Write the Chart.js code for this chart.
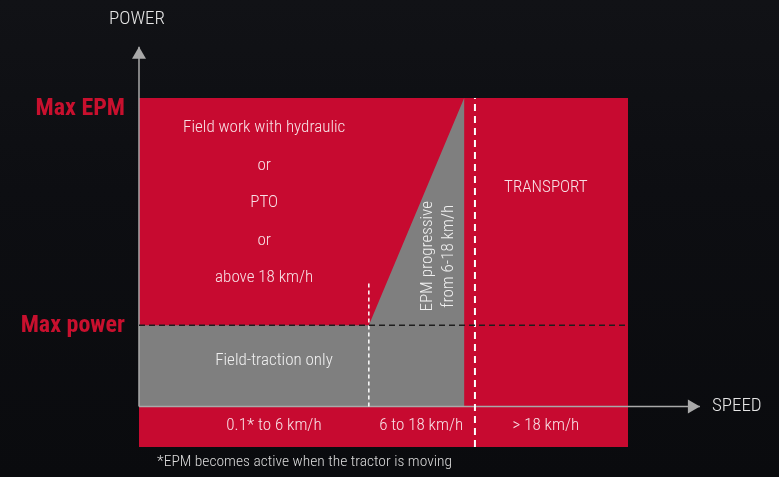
<!DOCTYPE html>
<html><head><meta charset="utf-8">
<script src="https://cdn.jsdelivr.net/npm/chart.js@4.4.1/dist/chart.umd.min.js"></script>
<style>
html,body{margin:0;padding:0;width:779px;height:477px;overflow:hidden;background:#0b0c10}
#wrap{position:relative;width:779px;height:477px;background:linear-gradient(180deg,#111216 0%,#0d0e12 40%,#0a0b0e 100%)}
canvas{display:block}
</style></head><body><div id="wrap"><canvas id="c" width="779" height="477"></canvas></div>
<script>
// Positions along the (non-linear) speed axis, in diagram units 0..100
const speedStart = 0, speed6 = 47, speed18 = 66.5, transportLine = 68.7, speedEnd = 100, speedArrow = 114.7;
// Power levels (Max power = 1)
const powerBottom = -0.5, powerZero = 0, maxPower = 1, maxEPM = 3.8, powerArrow = 4.43, dividerTop = 1.52;

const powerLevelNames = ['Max power', 'Max EPM'];
const powerLevelValues = [maxPower, maxEPM];
const speedZoneLabels = ['0.1* to 6 km/h', '6 to 18 km/h', '> 18 km/h'];
const speedZoneLabelAt = [27.6, 57.7, 83.2];
const fieldWorkLines = ['Field work with hydraulic', 'or', 'PTO', 'or', 'above 18 km/h'];
const epmLines = ['EPM progressive', 'from 6-18 km/h'];
const footnote = '*EPM becomes active when the tractor is moving';

const RED = '#c70a30', GRAY = '#7f7f7f', AXIS = '#a9a9a9';
const FONT = "'Liberation Sans Narrow','Roboto Condensed','DejaVu Sans Condensed',sans-serif";

const redZone = [{x:speedStart,y:powerBottom},{x:speedEnd,y:powerBottom},{x:speedEnd,y:maxEPM},{x:speedStart,y:maxEPM},{x:speedStart,y:powerBottom}];
const grayZone = [{x:speedStart,y:powerZero},{x:speed18,y:powerZero},{x:speed18,y:maxEPM},{x:speed6,y:maxPower},{x:speedStart,y:maxPower},{x:speedStart,y:powerZero}];

const textPlugin = {
  id: 'texts',
  afterDatasetsDraw(chart) {
    const {ctx, scales:{x, y}} = chart;
    ctx.save();
    // arrow heads
    ctx.fillStyle = AXIS;
    const ax = x.getPixelForValue(speedStart), ay = y.getPixelForValue(powerArrow);
    ctx.beginPath(); ctx.moveTo(ax, ay); ctx.lineTo(ax - 7, ay + 12); ctx.lineTo(ax + 7, ay + 12); ctx.closePath(); ctx.fill();
    const bx = x.getPixelForValue(speedArrow), by = y.getPixelForValue(powerZero);
    ctx.beginPath(); ctx.moveTo(bx, by); ctx.lineTo(bx - 12, by - 7); ctx.lineTo(bx - 12, by + 7); ctx.closePath(); ctx.fill();

    ctx.fillStyle = '#c8102e';
    ctx.font = 'bold 24px ' + FONT;
    ctx.textAlign = 'right';
    ctx.textBaseline = 'alphabetic';
    ctx.fillText(powerLevelNames[1], x.getPixelForValue(speedStart) - 14, y.getPixelForValue(powerLevelValues[1]) + 17);
    ctx.fillText(powerLevelNames[0], x.getPixelForValue(speedStart) - 14, y.getPixelForValue(powerLevelValues[0]) + 7);
    ctx.fillStyle = '#e6e6e6';
    ctx.font = '300 19px ' + FONT;
    ctx.textAlign = 'center';
    ctx.textBaseline = 'middle';
    ctx.fillText('POWER', x.getPixelForValue(speedStart) - 2, 19);
    ctx.textAlign = 'left';
    ctx.fillText('SPEED', x.getPixelForValue(speedArrow) + 12, y.getPixelForValue(powerZero));
    ctx.fillStyle = 'rgba(255,255,255,0.88)';
    ctx.font = '300 17px ' + FONT;
    ctx.textAlign = 'center';
    const fx = x.getPixelForValue(25.6);
    fieldWorkLines.forEach((t, i) => ctx.fillText(t, fx, 128 + i * 37.5));
    ctx.fillText('Field-traction only', x.getPixelForValue(27.6), y.getPixelForValue(0.56));
    ctx.fillText('TRANSPORT', x.getPixelForValue(83.2), y.getPixelForValue(2.69));
    speedZoneLabels.forEach((t, i) => ctx.fillText(t, x.getPixelForValue(speedZoneLabelAt[i]), y.getPixelForValue(-0.24)));
    ctx.save();
    ctx.translate(x.getPixelForValue(61.3), y.getPixelForValue(1.85));
    ctx.rotate(-Math.PI / 2);
    ctx.fillText(epmLines[0], 0, -11);
    ctx.fillText(epmLines[1], 0, 10);
    ctx.restore();
    ctx.fillStyle = '#dcdcdc';
    ctx.font = '300 15.5px ' + FONT;
    ctx.textAlign = 'left';
    ctx.fillText(footnote, x.getPixelForValue(3.7), 462);
    ctx.restore();
  }
};

const line = (data, color, width, dash, extra) => Object.assign({
  data, showLine: true, borderColor: color, borderWidth: width, borderDash: dash || [],
  pointRadius: 0, fill: false, tension: 0, clip: false, order: 1
}, extra || {});

new Chart(document.getElementById('c'), {
  type: 'scatter',
  data: { datasets: [
    line(redZone, RED, 0, null, {fill: 'shape', backgroundColor: RED, order: 5}),
    line(grayZone, GRAY, 0, null, {fill: 'shape', backgroundColor: GRAY, order: 4}),
    line([{x:speedStart,y:maxPower},{x:speedEnd,y:maxPower}], '#1e1e1e', 1.5, [6,4]),
    line([{x:speed6,y:powerZero},{x:speed6,y:dividerTop}], '#ffffff', 1.5, [4,3]),
    line([{x:transportLine,y:powerBottom},{x:transportLine,y:maxEPM}], '#ffffff', 2, [7,5]),
    line([{x:speedStart,y:powerZero},{x:speedStart,y:powerArrow}], AXIS, 1.5),
    line([{x:speedStart,y:powerZero},{x:speedArrow,y:powerZero}], AXIS, 1.5)
  ]},
  options: {
    responsive: false, animation: false, events: [],
    layout: { padding: { left: 139, right: 151, top: 98, bottom: 30 } },
    plugins: { legend: {display:false}, tooltip: {enabled:false} },
    scales: {
      x: { type:'linear', display:false, min:speedStart, max:speedEnd },
      y: { type:'linear', display:false, min:powerBottom, max:maxEPM }
    }
  },
  plugins: [textPlugin]
});
</script></body></html>
